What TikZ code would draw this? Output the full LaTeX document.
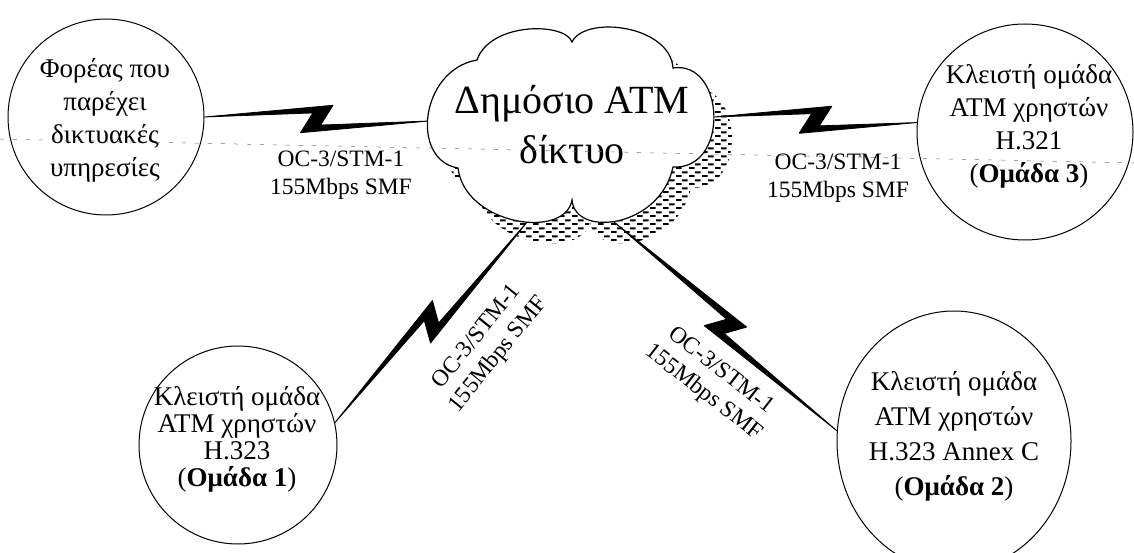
\documentclass[tikz,border=0pt]{standalone}
\usepackage{fontspec}
\setmainfont{Liberation Serif}
\usetikzlibrary{calc,patterns,shapes.geometric}

% stipple of short horizontal dashes used for the cloud's drop shadow
\pgfdeclarepatternformonly{hdashes}{\pgfqpoint{0pt}{0pt}}{\pgfqpoint{13pt}{8pt}}{\pgfqpoint{13pt}{8pt}}{%
  \pgfpathrectangle{\pgfqpoint{0pt}{0pt}}{\pgfqpoint{6pt}{2.2pt}}%
  \pgfpathrectangle{\pgfqpoint{6.5pt}{4pt}}{\pgfqpoint{6pt}{2.2pt}}%
  \pgfusepath{fill}%
}

% the public network cloud, drawn with the options given
\newcommand\cloudshape[1]{%
  \path[#1] (572,42) .. controls (565,22) and (490,22) .. (477,60)
    .. controls (420,70) and (410,160) .. (458,168)
    .. controls (465,225) and (565,240) .. (572,200)
    .. controls (575,238) and (660,228) .. (673,167)
    .. controls (730,170) and (725,60) .. (673,68)
    .. controls (670,25) and (585,15) .. (572,42) -- cycle;}

% lightning-style link from #1 to #2; #3 prefixes the helper coordinates
\newcommand\boltlink[3]{%
  \coordinate (#3m) at ($(#1)!0.5!(#2)$);
  \coordinate (#3a) at ($(#3m)!16pt!(#2)$);
  \coordinate (#3b) at ($(#3m)!-16pt!(#2)$);
  \coordinate (#3c) at ($(#3m)!4pt!(#2)$);
  \coordinate (#3d) at ($(#3m)!-4pt!(#2)$);
  \coordinate (#3T) at ($(#3a)!14pt!90:(#2)$);
  \coordinate (#3S) at ($(#3b)!14pt!-90:(#2)$);
  \coordinate (#3I) at ($(#3d)!6pt!90:(#2)$);
  \coordinate (#3J) at ($(#3c)!6pt!-90:(#2)$);
  \filldraw[bolt] (#1) -- (#3T) -- (#3J) -- (#2) -- (#3S) -- (#3I) -- cycle;}

\begin{document}
\begin{tikzpicture}[x=1pt,y=-1pt,
  ring/.style={circle, draw, line width=1pt, inner sep=0pt},
  oval/.style={ellipse, draw, line width=1pt, inner sep=0pt},
  ringtext/.style={align=center, inner sep=0pt, font=\fontsize{27}{33}\selectfont},
  linklabel/.style={align=center, inner sep=0pt, font=\fontsize{23.5}{28}\selectfont},
  cloudtext/.style={align=center, inner sep=0pt, font=\fontsize{40}{50}\selectfont},
  bolt/.style={fill=black, draw=black, line width=0.8pt, line join=round},
  scanline/.style={black!55, line width=0.5pt, dash pattern=on 4pt off 9pt}]

\useasboundingbox (0,0) rectangle (1134,553);
\clip (0,0) rectangle (1134,553);
\fill[white] (0,0) rectangle (1134,553);

% shadow of the cloud
\cloudshape{pattern=hdashes, shift={(18,21)}}

% sites
\node[ring, minimum size=196pt] (prov) at (106,117) {};
\node[ring, minimum size=216pt] (g3) at (1025,132) {};
\node[ring, minimum size=198pt] (g1) at (238,445) {};
\node[oval, minimum width=234pt, minimum height=260pt] (g2) at (954,441) {};

% attachment points on the cloud outline
\coordinate (cw) at (429,121);
\coordinate (ce) at (714,117);
\coordinate (csw) at (528,221);
\coordinate (cse) at (614,222);

% links
\boltlink{prov.east}{cw}{L}
\boltlink{ce}{g3.175}{R}
\boltlink{g1.13}{csw}{D}
\boltlink{cse}{g2.175}{E}

% the cloud itself
\cloudshape{fill=white, draw=black, line width=1.2pt}
\node[cloudtext] (netname) at (572,125) {Δημόσιο ATM\\δίκτυο};

% site texts
\node[ringtext] (provtext) at (105,120) {Φορέας που\\παρέχει\\δικτυακές\\υπηρεσίες};
\node[ringtext] (g3text) at (1029,126) {Κλειστή ομάδα\\ATM χρηστών\\H.321\\(\textbf{Ομάδα 3})};
\node[ringtext, font=\fontsize{27}{27}\selectfont] (g1text) at (237,439) {Κλειστή ομάδα\\ATM χρηστών\\H.323\\(\textbf{Ομάδα 1})};
\node[ringtext, font=\fontsize{27}{35}\selectfont] (g2text) at (954,436) {Κλειστή ομάδα\\ATM χρηστών\\H.323 Annex C\\(\textbf{Ομάδα 2})};

% link labels
\node[linklabel] (Llab) at (341,175) {OC-3/STM-1\\155Mbps SMF};
\node[linklabel] (Rlab) at (838,178) {OC-3/STM-1\\155Mbps SMF};
\node[linklabel, rotate=51] (Dlab) at (488,346) {OC-3/STM-1\\155Mbps SMF};
\node[linklabel, rotate=-38] (Elab) at (712,382) {OC-3/STM-1\\155Mbps SMF};

% faint dotted rule running across the sheet
\coordinate (sl0) at (0,139);
\coordinate (sl1) at (1134,163);
\draw[scanline] (sl0) -- (sl1);
\end{tikzpicture}
\end{document}
